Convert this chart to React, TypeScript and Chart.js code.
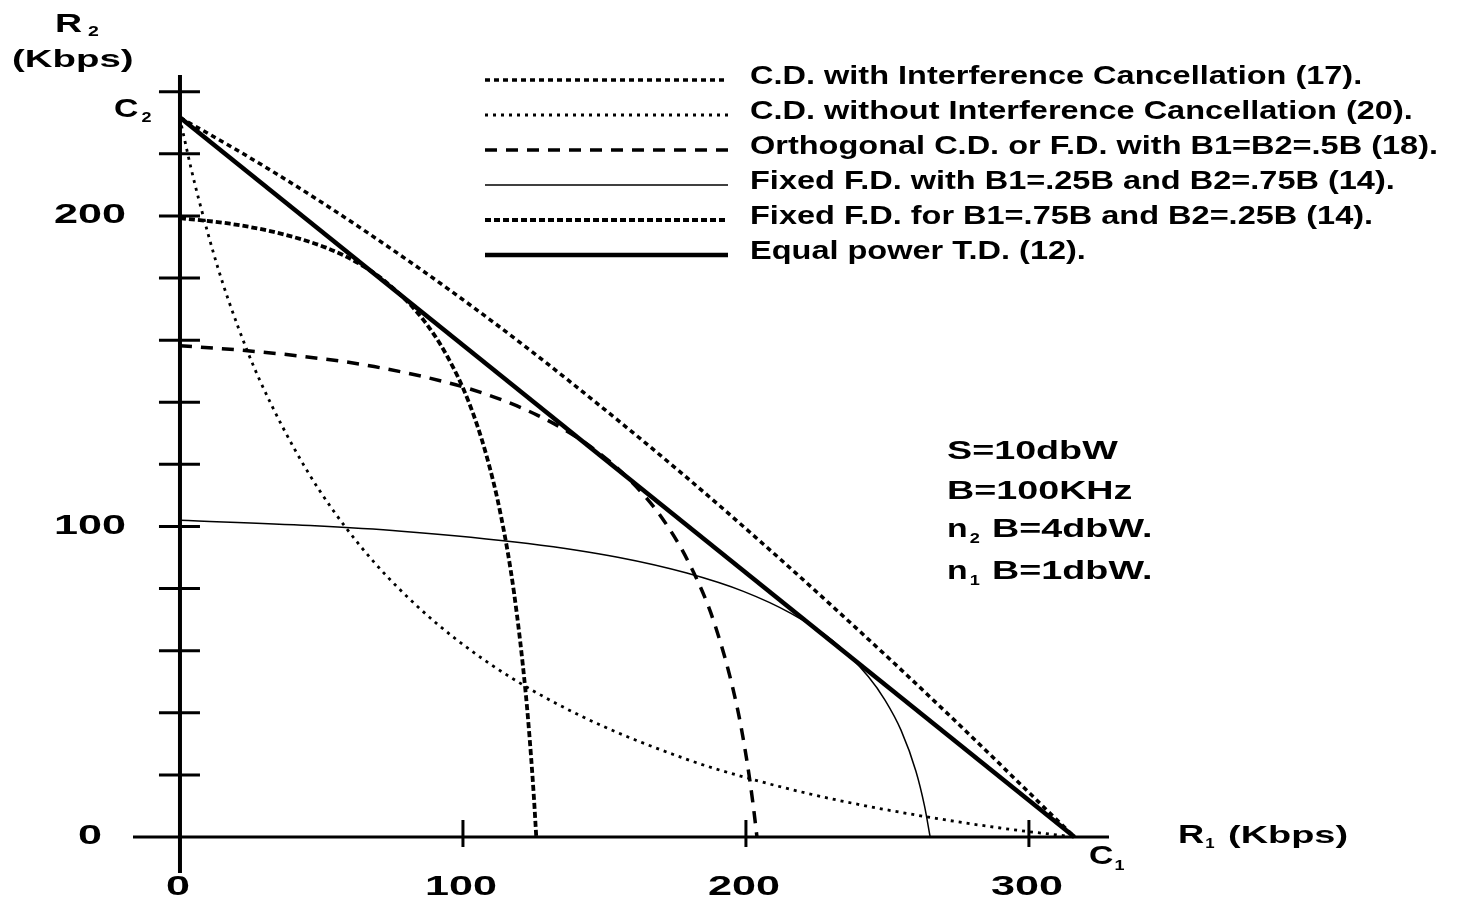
import { useEffect, useRef } from "react";
import { Chart, registerables } from "chart.js";

Chart.register(...registerables);

// ---------- data (R1, R2 in Kbps) ----------
const cdIcR1 = [0, 21.3, 48.2, 84.3, 113.2, 137.2, 175.8, 206.3, 231.4, 252.8, 271.4, 287.9, 302.6, 316.1];
const cdIcR2 = [231.7, 220.6, 205.5, 183.3, 164.1, 147.1, 118.3, 94.2, 73.6, 55.6, 39.6, 25.1, 12.0, 0];

const cdNoIcR1 = [0, 0.6, 1.3, 2.6, 3.9, 6.6, 13.4, 20.6, 28.2, 44.7, 63.3, 84.7, 109.8, 140.3, 178.8, 202.9, 231.7, 267.8, 294.8, 304.9, 316.1];
const cdNoIcR2 = [231.7, 228.8, 226.0, 220.6, 215.4, 205.5, 183.3, 164.1, 147.1, 118.3, 94.2, 73.6, 55.6, 39.6, 25.1, 18.4, 12.0, 5.9, 2.3, 1.2, 0];

const orthR1 = [0, 19.9, 42.2, 68.6, 103.1, 126.4, 143.9, 158.0, 169.9, 180.0, 188.9, 196.8, 200.4, 202.5, 203.9];
const orthR2 = [158.2, 156.9, 154.9, 151.5, 144.1, 135.8, 126.5, 115.8, 103.3, 88.0, 68.7, 42.2, 24.2, 10.7, 0];

const fixedAR1 = [0, 17.7, 34.3, 51.6, 63.2, 72.0, 84.9, 94.4, 102.0, 108.2, 113.5, 118.1, 122.2, 124.1, 125.2, 125.9];
const fixedAR2 = [199.3, 197.5, 194.6, 189.8, 184.7, 179.3, 167.8, 154.9, 140.2, 123.2, 103.1, 78.3, 46.1, 25.5, 10.9, 0];

const fixedBR1 = [0, 46.0, 78.2, 123.0, 154.7, 179.1, 199.1, 215.9, 230.5, 243.3, 249.2, 254.8, 260.1, 263.1, 265.1];
const fixedBR2 = [102.0, 100.3, 98.5, 94.5, 90.1, 85.0, 79.1, 72.0, 63.3, 51.6, 44.0, 34.4, 21.1, 10.0, 0];

const tdR1 = [0, 316.1];
const tdR2 = [231.7, 0];

const legendLabels = [
  "C.D. with Interference Cancellation (17).",
  "C.D. without Interference Cancellation (20).",
  "Orthogonal C.D. or F.D. with B1=B2=.5B (18).",
  "Fixed F.D. with B1=.25B and B2=.75B (14).",
  "Fixed F.D. for B1=.75B and B2=.25B (14).",
  "Equal power T.D. (12).",
];

const yMinorTicks = [20, 40, 60, 80, 100, 120, 140, 160, 180, 200, 220, 240];
const yTickLabels = [0, 100, 200];
const xTicks = [100, 200, 300];
const xTickLabels = [0, 100, 200, 300];

const paramLines = ["S=10dbW", "B=100KHz"];
const noiseLines: [string, string, string][] = [
  ["n", "2", " B=4dbW."],
  ["n", "1", " B=1dbW."],
];

// ---------- helpers ----------
const pts = (xs: number[], ys: number[]) => xs.map((x, i) => ({ x, y: ys[i] }));
const FAM = "'Liberation Sans', Arial, Helvetica, sans-serif";

function drawText(
  ctx: CanvasRenderingContext2D,
  text: string,
  x: number,
  y: number,
  size: number,
  sx: number,
  align: "left" | "center" | "right" = "left"
) {
  ctx.save();
  ctx.font = `bold ${size}px ${FAM}`;
  ctx.textBaseline = "middle";
  ctx.textAlign = "left";
  ctx.fillStyle = "#000";
  const w = ctx.measureText(text).width * sx;
  let x0 = x;
  if (align === "center") x0 = x - w / 2;
  else if (align === "right") x0 = x - w;
  ctx.translate(x0, y);
  ctx.scale(sx, 1);
  ctx.fillText(text, 0, 0);
  ctx.restore();
  return x0 + w;
}

const axesPlugin = {
  id: "crossAxes",
  beforeDatasetsDraw(chart: any) {
    const { ctx, scales } = chart;
    const xs = scales.x;
    const ys = scales.y;
    const x0 = xs.getPixelForValue(0);
    const y0 = ys.getPixelForValue(0);
    ctx.save();
    ctx.strokeStyle = "#000";
    ctx.lineCap = "butt";
    ctx.lineWidth = 3;
    ctx.beginPath();
    ctx.moveTo(xs.left, y0);
    ctx.lineTo(xs.right, y0);
    ctx.stroke();
    ctx.lineWidth = 4;
    ctx.beginPath();
    ctx.moveTo(x0, ys.top);
    ctx.lineTo(x0, ys.bottom);
    ctx.stroke();
    ctx.lineWidth = 3;
    yMinorTicks.forEach((v) => {
      const py = ys.getPixelForValue(v);
      ctx.beginPath();
      ctx.moveTo(x0 - 21, py);
      ctx.lineTo(x0 + 20, py);
      ctx.stroke();
    });
    xTicks.forEach((v) => {
      const px = xs.getPixelForValue(v);
      ctx.beginPath();
      ctx.moveTo(px, y0 - 17);
      ctx.lineTo(px, y0 + 10);
      ctx.stroke();
    });
    ctx.restore();
  },
};

const textPlugin = {
  id: "texts",
  afterDatasetsDraw(chart: any) {
    const { ctx, scales } = chart;
    const xs = scales.x;
    const ys = scales.y;
    const x0 = xs.getPixelForValue(0);
    const y0 = ys.getPixelForValue(0);

    yTickLabels.forEach((v) => {
      drawText(ctx, String(v), x0 - 90, ys.getPixelForValue(v), 27, 1.6, "center");
    });
    xTickLabels.forEach((v) => {
      drawText(ctx, String(v), xs.getPixelForValue(v) - 2, y0 + 51, 27, 1.6, "center");
    });

    let e = drawText(ctx, "R", 55, 25, 25, 1.5);
    drawText(ctx, "2", e + 6, 32, 15, 1.3);
    drawText(ctx, "(Kbps)", 12, 60, 24, 1.6);

    e = drawText(ctx, "R", 1178, y0 - 1, 25, 1.45);
    drawText(ctx, "1", e + 1, y0 + 7, 14, 1.2);
    drawText(ctx, "(Kbps)", 1228, y0 - 1, 24, 1.58);

    e = drawText(ctx, "C", 114, 110, 26, 1.3);
    drawText(ctx, "2", e + 3, 118, 15, 1.2);
    e = drawText(ctx, "C", 1089, 857, 26, 1.3);
    drawText(ctx, "1", e + 1, 866, 15, 1.2);

    paramLines.forEach((t, i) => drawText(ctx, t, 947, 452 + i * 40, 26, 1.45));
    noiseLines.forEach((parts, i) => {
      const y = 530 + i * 42;
      const a = drawText(ctx, parts[0], 947, y, 26, 1.3);
      drawText(ctx, parts[1], a + 2, y + 9, 14, 1.3);
      drawText(ctx, parts[2], a + 14, y, 26, 1.45);
    });

    // legend rows map to datasets
    const order = [0, 1, 2, 4, 3, 5];
    legendLabels.forEach((label, i) => {
      const ds = chart.data.datasets[order[i]];
      const y = 77 + i * 35;
      ctx.save();
      ctx.strokeStyle = "#000";
      ctx.lineWidth = ds.legendWidth ?? ds.borderWidth;
      ctx.setLineDash(ds.borderDash || []);
      ctx.beginPath();
      ctx.moveTo(485, y + 3);
      ctx.lineTo(728, y + 3);
      ctx.stroke();
      ctx.restore();
      drawText(ctx, label, 750, y, 25, 1.3);
    });
  },
};

export default function App() {
  const ref = useRef<HTMLCanvasElement>(null);
  useEffect(() => {
    const common = {
      showLine: true,
      fill: false,
      pointRadius: 0,
      borderColor: "#000",
      backgroundColor: "#000",
      cubicInterpolationMode: "monotone" as const,
      clip: false as any,
      borderCapStyle: "butt" as const,
    };
    const chart = new Chart(ref.current!, {
      type: "scatter",
      data: {
        datasets: [
          { ...common, label: legendLabels[0], data: pts(cdIcR1, cdIcR2), borderWidth: 3.5, borderDash: [5, 4] },
          { ...common, label: legendLabels[1], data: pts(cdNoIcR1, cdNoIcR2), borderWidth: 2.8, borderDash: [3, 5] },
          { ...common, label: legendLabels[2], data: pts(orthR1, orthR2), borderWidth: 3.5, borderDash: [12, 9] },
          { ...common, label: legendLabels[4], data: pts(fixedAR1, fixedAR2), borderWidth: 3.8, borderDash: [6, 3] },
          { ...common, label: legendLabels[3], data: pts(fixedBR1, fixedBR2), borderWidth: 1.5, borderDash: [] },
          { ...common, label: legendLabels[5], data: pts(tdR1, tdR2), borderWidth: 4.5, borderDash: [] },
        ],
      },
      options: {
        animation: false,
        responsive: false,
        layout: { padding: { left: 133, right: 352, top: 75, bottom: 36 } },
        scales: {
          x: { type: "linear", min: -16.6, max: 328.3, display: false },
          y: { type: "linear", min: -11.6, max: 245.4, display: false },
        },
        plugins: { legend: { display: false }, tooltip: { enabled: false } },
      },
      plugins: [axesPlugin, textPlugin],
    });
    return () => chart.destroy();
  }, []);
  return (
    <div style={{ position: "absolute", left: 0, top: 0, width: 1461, height: 909, background: "#fff" }}>
      <canvas ref={ref} width={1461} height={909} style={{ display: "block" }} />
    </div>
  );
}
